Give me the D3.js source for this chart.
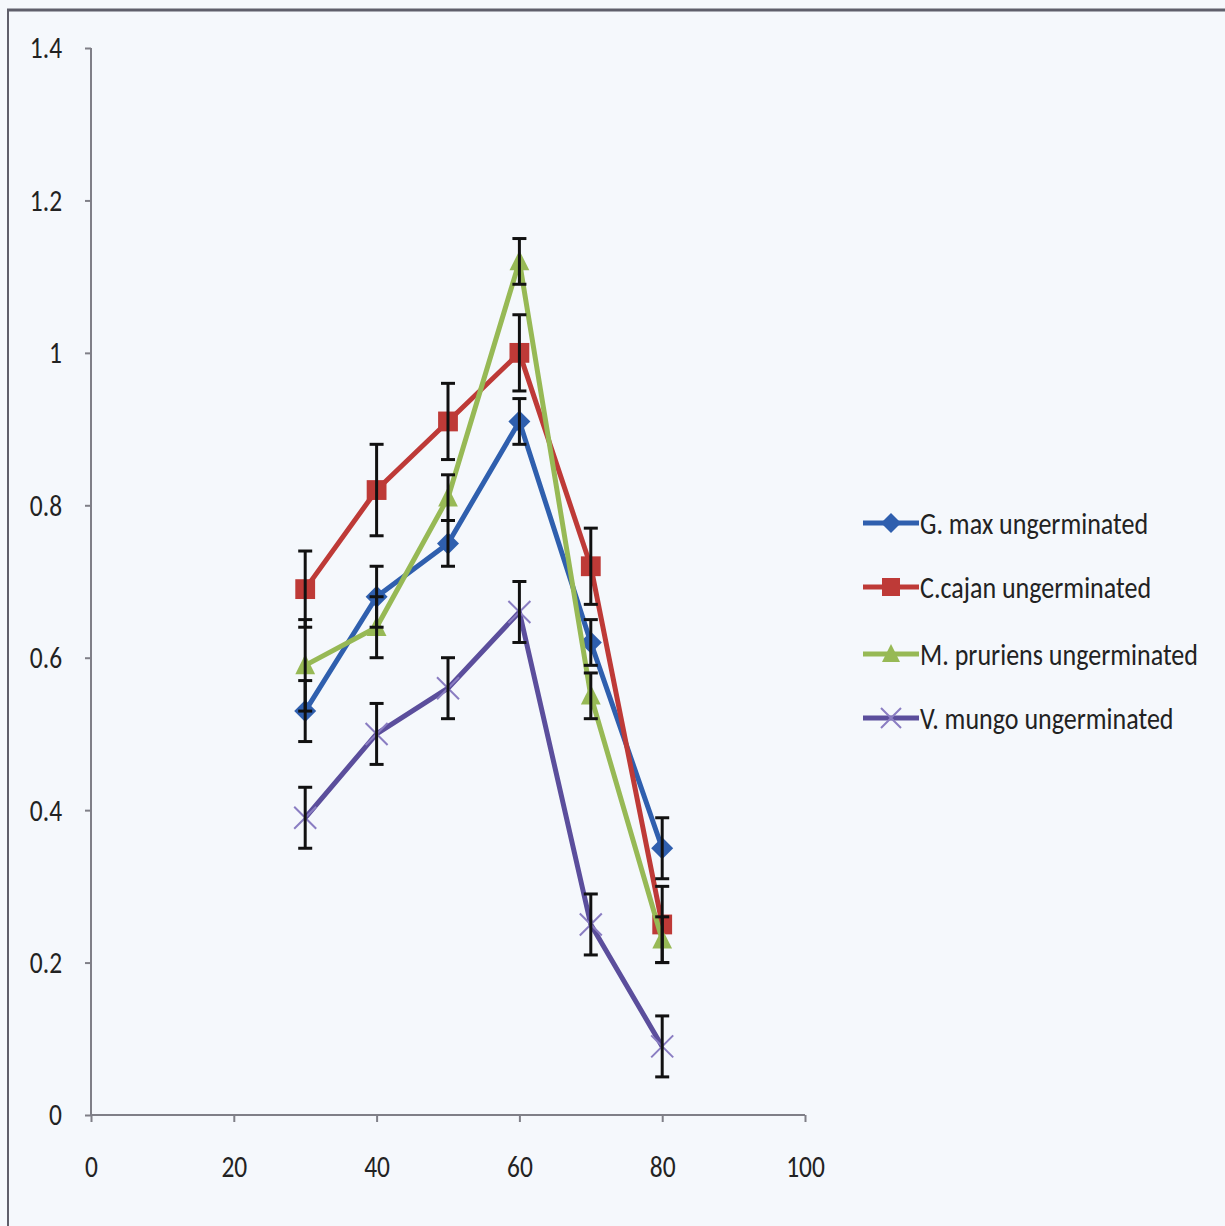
<!DOCTYPE html>
<html>
<head>
<meta charset="utf-8">
<script src="https://cdn.jsdelivr.net/npm/d3@7"></script>
<style>
  body { margin: 0; background: #f5f8fc; }
  svg text { font-family: Carlito, "Liberation Sans Narrow", "Open Sans", sans-serif; fill: #222; }
</style>
</head>
<body>
<div id="chart"></div>
<script>
// Chart data
var xValues = [30, 40, 50, 60, 70, 80];
var seriesNames = ["G. max ungerminated", "C.cajan ungerminated", "M. pruriens ungerminated", "V. mungo ungerminated"];
var gmax = [0.53, 0.68, 0.75, 0.91, 0.62, 0.35];
var gmaxErr = [0.04, 0.04, 0.03, 0.03, 0.03, 0.04];
var ccajan = [0.69, 0.82, 0.91, 1.00, 0.72, 0.25];
var ccajanErr = [0.05, 0.06, 0.05, 0.05, 0.05, 0.05];
var mpruriens = [0.59, 0.64, 0.81, 1.12, 0.55, 0.23];
var mpruriensErr = [0.06, 0.04, 0.03, 0.03, 0.03, 0.03];
var vmungo = [0.39, 0.50, 0.56, 0.66, 0.25, 0.09];
var vmungoErr = [0.04, 0.04, 0.04, 0.04, 0.04, 0.04];
var xTicks = [0, 20, 40, 60, 80, 100];
var yTicks = [0, 0.2, 0.4, 0.6, 0.8, 1, 1.2, 1.4];

var colors = ["#2f5fae", "#be3a37", "#97b955", "#5b4e9c"];
var shapes = ["diamond", "square", "triangle", "cross"];

var series = [gmax, ccajan, mpruriens, vmungo].map(function (vals, i) {
    var errs = [gmaxErr, ccajanErr, mpruriensErr, vmungoErr][i];
    return {
        name: seriesNames[i], color: colors[i], shape: shapes[i],
        points: xValues.map(function (x, j) { return { x: x, y: vals[j], e: errs[j] }; })
    };
});

var W = 1225, H = 1226;
var svg = d3.select("#chart").append("svg").attr("width", W).attr("height", H);

// squeeze text a bit, the original font is a narrow one
function narrow(sel, k) {
    sel.each(function () {
        var w = this.getComputedTextLength();
        d3.select(this).attr("textLength", w * k).attr("lengthAdjust", "spacingAndGlyphs");
    });
}

// frame
svg.append("line").attr("x1", 7).attr("x2", W).attr("y1", 10).attr("y2", 10)
    .attr("stroke", "#5f5f6b").attr("stroke-width", 3);
svg.append("line").attr("x1", 8).attr("x2", 8).attr("y1", 9).attr("y2", H)
    .attr("stroke", "#5f5f6b").attr("stroke-width", 2);

var x = d3.scaleLinear().domain([0, 100]).range([91, 805]);
var y = d3.scaleLinear().domain([0, 1.4]).range([1115, 48]);

var axisColor = "#7f7f87";

var gy = svg.append("g").attr("transform", "translate(91,0)")
    .call(d3.axisLeft(y).tickValues(yTicks).tickSize(6).tickPadding(23)
        .tickFormat(function (d) { return d === 0 ? "0" : String(+d.toFixed(1)); }));
var gx = svg.append("g").attr("transform", "translate(0,1115)")
    .call(d3.axisBottom(x).tickValues(xTicks).tickSize(7).tickPadding(38));
[gx, gy].forEach(function (g) {
    g.attr("font-family", null).attr("font-size", null);
    g.selectAll("text").attr("font-size", 31).style("fill", "#222");
    narrow(g.selectAll("text"), 0.82);
    g.select(".domain").attr("stroke", axisColor).attr("stroke-width", 2);
    g.selectAll(".tick line").attr("stroke", axisColor).attr("stroke-width", 2);
});
gx.selectAll("text").attr("dy", "0.55em");
gx.select(".domain").attr("d", "M91,0H805");
gy.select(".domain").attr("d", "M0,48V1115");

function marker(g, shape, color, s) {
    if (shape === "diamond") {
        g.append("path").attr("d", "M0,-" + s + "L" + s + ",0L0," + s + "L-" + s + ",0Z").attr("fill", color);
    } else if (shape === "square") {
        g.append("rect").attr("x", -s * 0.9).attr("y", -s * 0.9).attr("width", s * 1.8).attr("height", s * 1.8).attr("fill", color);
    } else if (shape === "triangle") {
        g.append("path").attr("d", "M0,-" + s + "L" + s * 0.9 + "," + s * 0.8 + "L-" + s * 0.9 + "," + s * 0.8 + "Z").attr("fill", color);
    } else {
        g.append("path").attr("d", "M-" + s + ",-" + s + "L" + s + "," + s + "M" + s + ",-" + s + "L-" + s + "," + s)
            .attr("stroke", "#8a7dc2").attr("stroke-width", 2).attr("fill", "none");
    }
}

var line = d3.line().x(function (d) { return x(d.x); }).y(function (d) { return y(d.y); });

series.forEach(function (s) {
    svg.append("path").datum(s.points).attr("d", line)
        .attr("fill", "none").attr("stroke", s.color).attr("stroke-width", 5).attr("stroke-linejoin", "round");
    s.points.forEach(function (p) {
        marker(svg.append("g").attr("transform", "translate(" + x(p.x) + "," + y(p.y) + ")"), s.shape, s.color, 11);
    });
});

// error bars on top
series.forEach(function (s) {
    s.points.forEach(function (p) {
        var g = svg.append("g").attr("stroke", "#111").attr("stroke-width", 3);
        var cx = x(p.x);
        g.append("line").attr("x1", cx).attr("x2", cx).attr("y1", y(p.y - p.e)).attr("y2", y(p.y + p.e));
        [p.y - p.e, p.y + p.e].forEach(function (v) {
            g.append("line").attr("x1", cx - 7).attr("x2", cx + 7).attr("y1", y(v)).attr("y2", y(v));
        });
    });
});

// legend
var legendY = [523, 587, 654, 718];
series.forEach(function (s, i) {
    var g = svg.append("g").attr("transform", "translate(863," + legendY[i] + ")");
    g.append("line").attr("x1", 0).attr("x2", 56).attr("stroke", s.color).attr("stroke-width", 5);
    marker(g.append("g").attr("transform", "translate(28,0)"), s.shape, s.color, 10);
    g.append("g").attr("transform", "translate(57,11) scale(0.84,1)")
        .append("text").attr("font-size", 31).text(s.name);
});
</script>
</body>
</html>
